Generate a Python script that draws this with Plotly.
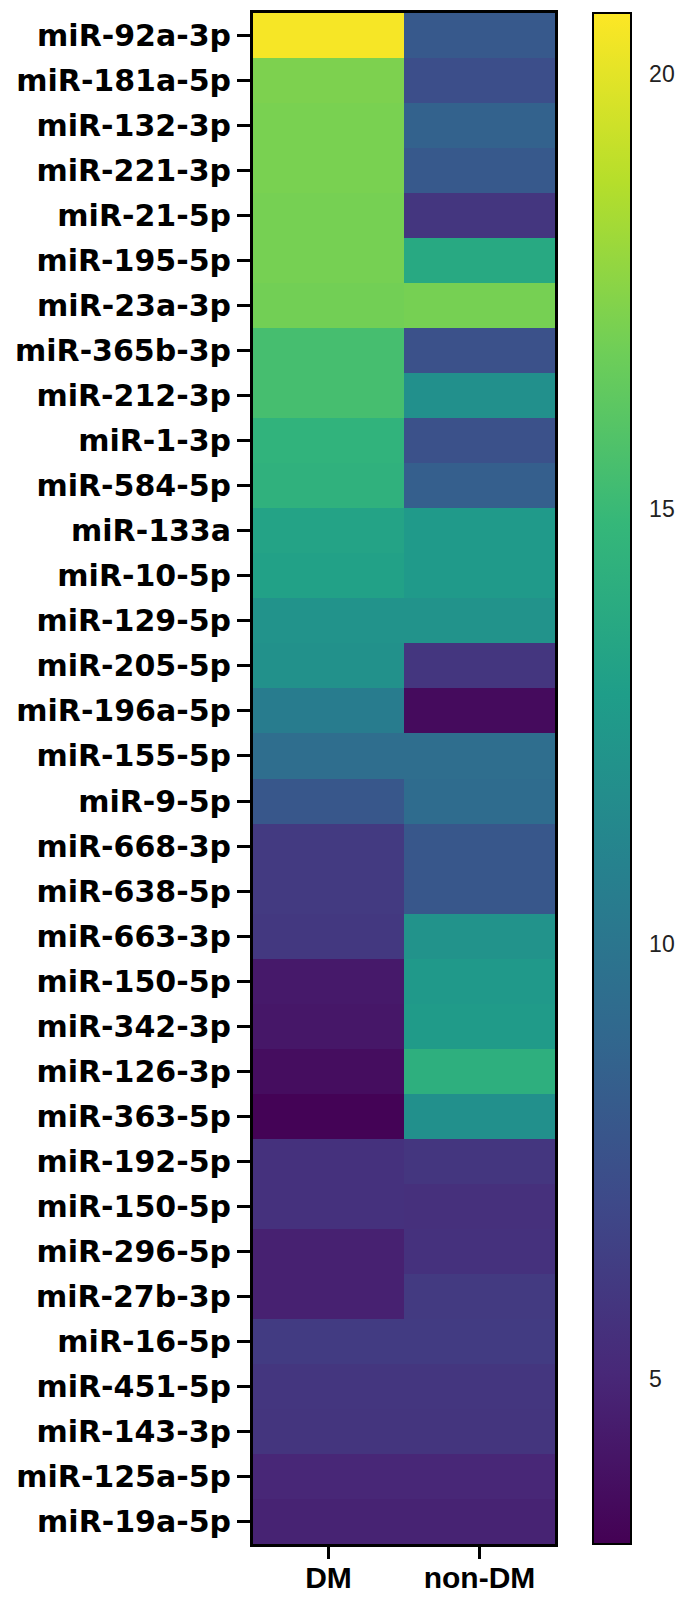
import plotly.graph_objects as go

mirnas = ["miR-92a-3p", "miR-181a-5p", "miR-132-3p", "miR-221-3p", "miR-21-5p",
          "miR-195-5p", "miR-23a-3p", "miR-365b-3p", "miR-212-3p", "miR-1-3p",
          "miR-584-5p", "miR-133a", "miR-10-5p", "miR-129-5p", "miR-205-5p",
          "miR-196a-5p", "miR-155-5p", "miR-9-5p", "miR-668-3p", "miR-638-5p",
          "miR-663-3p", "miR-150-5p", "miR-342-3p", "miR-126-3p", "miR-363-5p",
          "miR-192-5p", "miR-150-5p", "miR-296-5p", "miR-27b-3p", "miR-16-5p",
          "miR-451-5p", "miR-143-3p", "miR-125a-5p", "miR-19a-5p"]
groups = ["DM", "non-DM"]
dm = [20.5, 17.2, 17.1, 17.1, 17.0, 17.0, 16.9, 15.4, 15.4, 14.5,
      14.4, 13.3, 13.1, 12.1, 12.0, 10.5, 9.4, 7.9, 6.1, 6.1,
      6.0, 4.3, 4.2, 3.7, 3.2, 5.6, 5.6, 4.7, 4.7, 6.2,
      5.9, 5.8, 5.0, 4.8]
non_dm = [8.0, 7.3, 8.6, 8.0, 5.9, 13.7, 17.0, 7.5, 11.9, 7.5,
          8.4, 12.6, 12.6, 12.1, 5.9, 3.6, 9.4, 9.3, 7.9, 7.9,
          12.1, 12.5, 12.7, 14.2, 11.9, 5.9, 5.5, 5.6, 6.1, 6.2,
          5.9, 5.8, 5.0, 4.8]
cbar_ticks = [5, 10, 15, 20]
zmin, zmax = 3.1, 20.7

rows = list(range(len(mirnas)))
z = [[a, b] for a, b in zip(dm, non_dm)]

PLOT_W = 677 - 253 - 122
cb_x0 = (593 - 253) / PLOT_W
cb_th = 38

fig = go.Figure(go.Heatmap(
    z=z, x=[0, 1], y=rows,
    colorscale="Viridis", zmin=zmin, zmax=zmax,
    xgap=0, ygap=0,
    colorbar=dict(
        x=cb_x0, xanchor="left", y=0.5, yanchor="middle",
        len=1, lenmode="fraction", thickness=cb_th, thicknessmode="pixels",
        xpad=0, ypad=0, outlinewidth=2, outlinecolor="black",
        tickvals=cbar_ticks, ticktext=[str(t) for t in cbar_ticks],
        ticks="outside", ticklen=13, tickcolor="rgba(0,0,0,0)",
        tickfont=dict(family="Liberation Sans, Arial", size=23, color="#222"),
    ),
))

# short inside tick marks on both edges of the colour bar
cb_x1 = cb_x0 + cb_th / PLOT_W
for t in cbar_ticks:
    yy = (t - zmin) / (zmax - zmin)
    fig.add_shape(type="line", xref="paper", yref="paper",
                  x0=cb_x0, x1=cb_x0 + 5 / PLOT_W, y0=yy, y1=yy,
                  line=dict(color="black", width=1.5))
    fig.add_shape(type="line", xref="paper", yref="paper",
                  x0=cb_x1 - 5 / PLOT_W, x1=cb_x1, y0=yy, y1=yy,
                  line=dict(color="black", width=1.5))

ylabel_font = dict(family="DejaVu Sans", size=30, color="black", weight="bold")
xlabel_font = dict(family="Liberation Sans, Arial", size=30, color="black", weight="bold")

fig.update_layout(
    width=677, height=1598,
    margin=dict(l=253, r=122, t=13, b=54, autoexpand=False),
    paper_bgcolor="white", plot_bgcolor="white",
    xaxis=dict(
        tickvals=[0, 1], ticktext=groups, range=[-0.5, 1.5],
        showline=True, linecolor="black", linewidth=3, mirror=True,
        ticks="outside", ticklen=12, tickwidth=3, tickcolor="black",
        tickfont=xlabel_font, ticklabelstandoff=-7, automargin=False,
        showgrid=False, zeroline=False,
    ),
    yaxis=dict(
        tickvals=rows, ticktext=mirnas, range=[len(mirnas) - 0.5, -0.5],
        showline=True, linecolor="black", linewidth=3, mirror=True,
        ticks="outside", ticklen=13, tickwidth=3, tickcolor="black",
        tickfont=ylabel_font, automargin=False,
        showgrid=False, zeroline=False,
    ),
)

fig.write_html(
    "out.html",
    config={"displayModeBar": False},
    post_script="document.body.style.margin='0';document.body.style.overflow='hidden';",
)
